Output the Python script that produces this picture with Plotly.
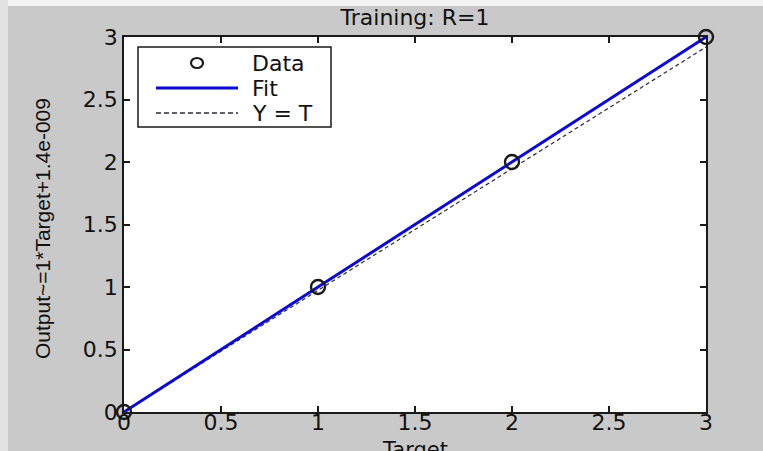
import plotly.graph_objects as go

# ---- data ----
target = [0, 1, 2, 3]
output = [0, 1, 2, 3]
fit_x = [0, 3]
fit_y = [0, 3]
yt_x = [0, 3]
yt_y = [0, 2.92]
tick_vals = [0, 0.5, 1, 1.5, 2, 2.5, 3]
tick_text = ["0", "0.5", "1", "1.5", "2", "2.5", "3"]
title_text = "Training: R=1"
ylabel_text = "Output~=1*Target+1.4e-009"
xlabel_text = "Target"
legend_labels = ["Data", "Fit", "Y = T"]

# ---- layout geometry (pixels) ----
W, H = 763, 451
L, R, T, B = 124, 706, 37, 412
PW, PH = R - L, B - T

def px(x):
    return (x - L) / PW

def py(y):
    return (B - y) / PH

FONT = "DejaVu Sans, Verdana, sans-serif"
TXT = "#111111"
BG = "#c9c9c9"
BLUE = "#0a0ad2"

fig = go.Figure()

fig.add_trace(go.Scatter(x=yt_x, y=yt_y, mode="lines",
                         line=dict(color="#2a2a3a", width=1.2, dash="4px,3px"),
                         showlegend=False, hoverinfo="skip"))
fig.add_trace(go.Scatter(x=fit_x, y=fit_y, mode="lines",
                         line=dict(color=BLUE, width=3),
                         showlegend=False, hoverinfo="skip"))
fig.add_trace(go.Scatter(x=target, y=output, mode="markers",
                         marker=dict(symbol="circle-open", size=14,
                                     color="#1a1a1a", line=dict(width=2.4)),
                         cliponaxis=False, showlegend=False))

shapes = []
# light border strips at top and left of figure
shapes.append(dict(type="rect", xref="paper", yref="paper",
                   x0=px(0), x1=px(W), y0=py(0), y1=py(6),
                   fillcolor="#f4f4f4", line=dict(width=0), layer="below"))
shapes.append(dict(type="rect", xref="paper", yref="paper",
                   x0=px(0), x1=px(8), y0=py(0), y1=py(H),
                   fillcolor="#e2e2e2", line=dict(width=0), layer="below"))

# legend box
lx0, lx1, ly0, ly1 = 138, 331, 47, 127
shapes.append(dict(type="rect", xref="paper", yref="paper",
                   x0=px(lx0), x1=px(lx1), y0=py(ly1), y1=py(ly0),
                   fillcolor="white", line=dict(color="#1a1a1a", width=1.5)))
rows = [63, 88, 113]
# data marker sample
shapes.append(dict(type="circle", xref="paper", yref="paper",
                   x0=px(197 - 6), x1=px(197 + 6), y0=py(rows[0] + 5), y1=py(rows[0] - 5),
                   line=dict(color="#1a1a1a", width=2.2)))
# fit sample
shapes.append(dict(type="line", xref="paper", yref="paper",
                   x0=px(156), x1=px(238), y0=py(rows[1]), y1=py(rows[1]),
                   line=dict(color=BLUE, width=3)))
# Y=T sample
shapes.append(dict(type="line", xref="paper", yref="paper",
                   x0=px(156), x1=px(238), y0=py(rows[2]), y1=py(rows[2]),
                   line=dict(color="#2a2a3a", width=1.3, dash="5px,3px")))

annotations = []
for lab, ry in zip(legend_labels, rows):
    annotations.append(dict(text=lab, xref="paper", yref="paper",
                            x=px(250), y=py(ry), xanchor="left", yanchor="middle",
                            showarrow=False, font=dict(family=FONT, size=22, color=TXT)))

annotations.append(dict(text=ylabel_text, xref="paper", yref="paper",
                        x=px(42), y=py(229), xanchor="center", yanchor="middle",
                        textangle=-90, showarrow=False,
                        font=dict(family="Liberation Sans, Arial, sans-serif", size=21, color=TXT)))
annotations.append(dict(text=xlabel_text, xref="paper", yref="paper",
                        x=0.5, y=py(436), xanchor="center", yanchor="top",
                        showarrow=False, font=dict(family=FONT, size=21, color=TXT)))

axis_common = dict(range=[0, 3], tickvals=tick_vals, ticktext=tick_text,
                   ticks="inside", ticklen=6, tickwidth=1.5, tickcolor="#1a1a1a",
                   showline=True, linecolor="#1a1a1a", linewidth=1.5, mirror="ticks",
                   showgrid=False, zeroline=False,
                   tickfont=dict(family=FONT, size=22, color=TXT))

fig.update_layout(
    width=W, height=H,
    margin=dict(l=L, r=W - R, t=T, b=H - B, autoexpand=False),
    paper_bgcolor=BG, plot_bgcolor="white",
    title=dict(text=title_text, x=0.5, xref="paper", y=1 - 17 / H, yref="container",
               xanchor="center", yanchor="middle",
               font=dict(family=FONT, size=22, color=TXT)),
    xaxis=dict(**axis_common, ticklabelstandoff=-10),
    yaxis=dict(**axis_common, ticklabelstandoff=0),
    shapes=shapes, annotations=annotations, showlegend=False,
)

fig.write_html("out.html", config={"displayModeBar": False},
               post_script="document.body.style.margin='0';document.body.style.overflow='hidden';")
